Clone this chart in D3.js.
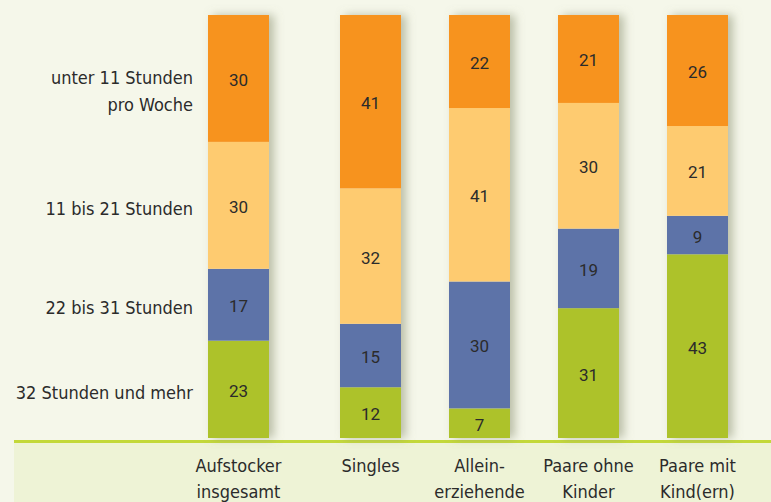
<!DOCTYPE html>
<html>
<head>
<meta charset="utf-8">
<script src="https://cdn.jsdelivr.net/npm/d3@7"></script>
<style>
  body { margin: 0; background: #f5f7ea; }
  svg { display: block; }
</style>
</head>
<body>
<div id="chart"></div>
<script>
// Dades
const categories = [["Aufstocker", "insgesamt"], ["Singles"], ["Allein-", "erziehende"], ["Paare ohne", "Kinder"], ["Paare mit", "Kind(ern)"]];
const series = ["32 Stunden und mehr", "22 bis 31 Stunden", "11 bis 21 Stunden", "unter 11 Stunden pro Woche"];
const seriesLabels = [["32 Stunden und mehr"], ["22 bis 31 Stunden"], ["11 bis 21 Stunden"], ["unter 11 Stunden", "pro Woche"]];
const mehr32 = [23, 12, 7, 31, 43];
const bis31 = [17, 15, 30, 19, 9];
const bis21 = [30, 32, 41, 30, 21];
const unter11 = [30, 41, 22, 21, 26];
const colors = ["#adc22a", "#5d73a8", "#fecb70", "#f7931e"];

const width = 771, height = 502;
const barTop = 15, barBottom = 438;

const rows = categories.map((c, i) => ({
    cat: c.join(" "),
    [series[0]]: mehr32[i],
    [series[1]]: bis31[i],
    [series[2]]: bis21[i],
    [series[3]]: unter11[i]
}));

const stack = d3.stack().keys(series).offset(d3.stackOffsetExpand);
const stacked = stack(rows);

const svg = d3.select("#chart").append("svg")
    .attr("width", width)
    .attr("height", height);

// ombra
const defs = svg.append("defs");
const f = defs.append("filter").attr("id", "ombra")
    .attr("x", "-30%").attr("y", "-10%").attr("width", "170%").attr("height", "120%");
f.append("feDropShadow")
    .attr("dx", 5).attr("dy", 0).attr("stdDeviation", 5)
    .attr("flood-color", "#8a9070").attr("flood-opacity", 0.55);

// fons inferior
svg.append("rect")
    .attr("x", 14).attr("y", 441)
    .attr("width", width - 14).attr("height", height - 441)
    .attr("fill", "#eef3d6");
svg.append("line")
    .attr("x1", 14).attr("x2", width)
    .attr("y1", 441.5).attr("y2", 441.5)
    .attr("stroke", "#c3d83a").attr("stroke-width", 3);

// posicions de les barres (com a l'original)
const xPos = d3.scaleOrdinal().domain(rows.map(d => d.cat)).range([208, 340, 449, 558, 667]);
const barW = 61;

const y = d3.scaleLinear().domain([0, 1]).range([barBottom, barTop]);

// barres amb ombra
svg.append("g").selectAll("rect.sh")
    .data(rows)
    .enter().append("rect")
    .attr("x", d => xPos(d.cat))
    .attr("y", barTop)
    .attr("width", barW)
    .attr("height", barBottom - barTop)
    .attr("fill", "#f5f7ea")
    .attr("filter", "url(#ombra)");

const groups = svg.append("g").selectAll("g")
    .data(stacked)
    .enter().append("g")
    .attr("fill", (d, i) => colors[i]);

groups.selectAll("rect")
    .data(d => d.map(v => Object.assign(v, { key: d.key })))
    .enter().append("rect")
    .attr("x", d => xPos(d.data.cat))
    .attr("y", d => y(d[1]))
    .attr("width", barW)
    .attr("height", d => y(d[0]) - y(d[1]));

groups.selectAll("text")
    .data(d => d)
    .enter().append("text")
    .attr("x", d => xPos(d.data.cat) + barW / 2)
    .attr("y", d => (y(d[0]) + y(d[1])) / 2 + 1)
    .attr("dy", "0.38em")
    .attr("text-anchor", "middle")
    .style("font-family", "Roboto, sans-serif")
    .style("font-size", "17px")
    .style("fill", "#2b2b2b")
    .text(d => d.data[d.key]);

// etiquetes de sèrie a l'esquerra
const first = stacked.map(s => s[0]);
const leg = svg.append("g").selectAll("text")
    .data(seriesLabels)
    .enter().append("text")
    .attr("text-anchor", "end")
    .style("font-family", "'DejaVu Sans Condensed', sans-serif")
    .style("font-size", "18px")
    .style("fill", "#2b2b2b")
    .attr("y", (d, i) => {
        const c = (y(first[i][0]) + y(first[i][1])) / 2;
        return d.length > 1 ? c - 1 : c + 3;
    });
leg.selectAll("tspan")
    .data(d => d)
    .enter().append("tspan")
    .attr("x", 193)
    .attr("dy", (d, i) => i === 0 ? "0.35em" : "1.5em")
    .text(d => d);

// etiquetes de categoria
const cats = svg.append("g").selectAll("text")
    .data(rows)
    .enter().append("text")
    .attr("text-anchor", "middle")
    .attr("y", 466)
    .style("font-family", "'DejaVu Sans Condensed', sans-serif")
    .style("font-size", "18px")
    .style("fill", "#2b2b2b");
cats.selectAll("tspan")
    .data((d, i) => categories[i].map(t => ({ t, cat: d.cat })))
    .enter().append("tspan")
    .attr("x", d => xPos(d.cat) + barW / 2)
    .attr("dy", (d, i) => i === 0 ? "0.35em" : "1.45em")
    .text(d => d.t);
</script>
</body>
</html>
